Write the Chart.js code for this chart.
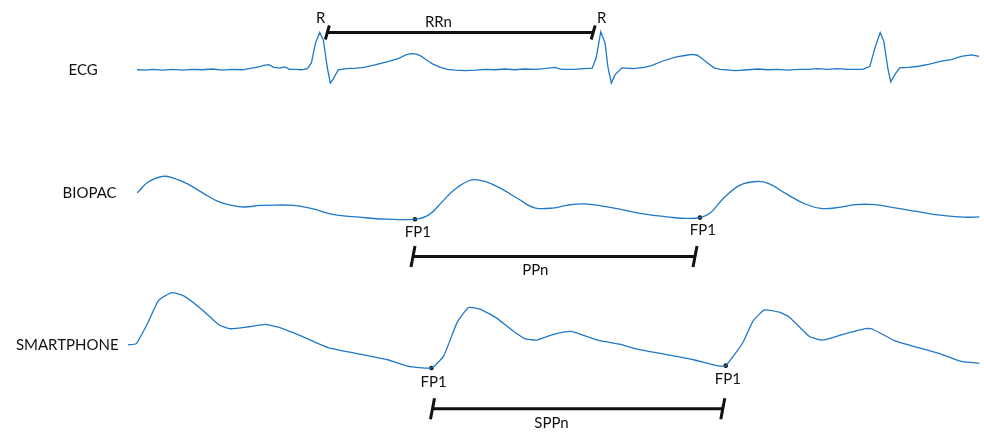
<!DOCTYPE html>
<html>
<head>
<meta charset="utf-8">
<script src="https://cdn.jsdelivr.net/npm/chart.js@4/dist/chart.umd.min.js"></script>
<style>
  body { margin: 0; background: #fff; }
  #wrap { width: 984px; height: 436px; }
</style>
</head>
<body>
<div id="wrap"><canvas id="signals" width="984" height="436"></canvas></div>
<script>
// time in ms, amplitudes in mV (ECG) and arbitrary units (pulse waves)
const ecgTime = [0, 24, 48, 78, 108, 138, 168, 198, 228, 258, 288, 318, 348, 372, 384, 399, 414, 432, 447, 462, 480, 498, 516, 528, 540, 553, 564, 576, 585, 594, 609, 633, 663, 687, 723, 759, 792, 813, 828, 846, 861, 876, 894, 918, 939, 963, 993, 1023, 1053, 1083, 1113, 1143, 1173, 1203, 1233, 1263, 1284, 1323, 1353, 1377, 1389, 1403, 1416, 1425, 1435, 1446, 1467, 1503, 1533, 1554, 1593, 1632, 1662, 1680, 1695, 1710, 1725, 1746, 1764, 1812, 1848, 1878, 1908, 1938, 1968, 1998, 2028, 2058, 2088, 2118, 2148, 2178, 2196, 2217, 2232, 2248, 2259, 2271, 2280, 2292, 2307, 2334, 2364, 2394, 2433, 2463, 2493, 2508, 2526, 2547];
const ecgMv = [0, -0.01, 0.01, -0.01, 0.01, -0.01, 0.01, 0, 0.02, -0.01, 0.01, 0, 0.04, 0.08, 0.11, 0.13, 0.06, 0.04, 0.07, 0.01, 0.01, 0, 0.03, 0.18, 0.68, 0.95, 0.75, 0.05, -0.34, -0.23, 0, 0.03, 0.04, 0.06, 0.13, 0.21, 0.29, 0.38, 0.41, 0.40, 0.34, 0.25, 0.15, 0.06, 0.01, -0.01, -0.02, -0.01, 0.01, 0, 0.02, 0, 0.02, 0.01, 0.03, 0.06, 0.01, 0.01, 0.03, 0.04, 0.30, 0.97, 0.68, 0.05, -0.34, -0.13, 0.05, 0.03, 0.06, 0.10, 0.23, 0.33, 0.37, 0.39, 0.37, 0.28, 0.18, 0.05, 0.01, -0.02, 0, 0.02, 0, 0.01, -0.01, 0.01, 0.01, 0.03, 0.01, 0.03, 0.01, 0.01, 0.01, 0.09, 0.55, 0.95, 0.73, 0.05, -0.31, -0.13, 0.05, 0.06, 0.09, 0.14, 0.22, 0.26, 0.34, 0.36, 0.38, 0.34];

const biopacTime = [1, 33, 78, 113, 153, 203, 243, 283, 323, 373, 423, 473, 533, 593, 673, 753, 841, 883, 923, 963, 1013, 1053, 1103, 1153, 1203, 1263, 1303, 1353, 1403, 1463, 1543, 1613, 1663, 1703, 1733, 1773, 1823, 1873, 1913, 1963, 2023, 2073, 2123, 2173, 2233, 2293, 2363, 2443, 2503, 2548];
const biopacAu = [0.69, 0.96, 1.11, 1.06, 0.92, 0.67, 0.48, 0.38, 0.33, 0.37, 0.38, 0.37, 0.28, 0.14, 0.07, 0.02, 0.02, 0.13, 0.46, 0.79, 1.02, 0.98, 0.79, 0.54, 0.31, 0.31, 0.38, 0.41, 0.36, 0.27, 0.14, 0.07, 0.04, 0.06, 0.17, 0.54, 0.88, 0.98, 0.92, 0.67, 0.40, 0.29, 0.32, 0.39, 0.39, 0.31, 0.21, 0.11, 0.07, 0.08];

const phoneTime = [-27, -2, 33, 66, 106, 143, 198, 248, 283, 338, 388, 428, 498, 578, 658, 758, 818, 891, 928, 968, 1003, 1038, 1088, 1138, 1173, 1208, 1258, 1313, 1393, 1463, 1503, 1583, 1683, 1753, 1781, 1833, 1863, 1898, 1943, 1973, 2033, 2073, 2133, 2203, 2223, 2293, 2363, 2423, 2493, 2548];
const phoneAu = [0.62, 0.65, 1.18, 1.76, 1.95, 1.86, 1.51, 1.13, 1.03, 1.08, 1.14, 1.07, 0.84, 0.55, 0.41, 0.24, 0.08, 0.03, 0.34, 1.18, 1.57, 1.53, 1.30, 0.97, 0.78, 0.74, 0.88, 0.96, 0.74, 0.63, 0.53, 0.40, 0.24, 0.09, 0.09, 0.68, 1.22, 1.51, 1.45, 1.33, 0.84, 0.74, 0.88, 1.03, 1.03, 0.72, 0.55, 0.41, 0.20, 0.15];

// marked events
const rPeakTime = [553, 1403];
const rPeakMv = [0.95, 0.97];
const biopacFpTime = [841, 1703];
const biopacFpAu = [0.02, 0.06];
const phoneFpTime = [891, 1781];
const phoneFpAu = [0.03, 0.09];

// interval brackets: start, end, level, label
const bracketNames = ['RRn', 'PPn', 'SPPn'];
const bracketStart = [576, 835, 894];
const bracketEnd = [1380, 1688, 1772];
const bracketLevel = [0.95, -0.93, -1.01];
const bracketAxis = ['yEcg', 'yBio', 'yPhone'];
const bracketLabelTime = [912, 1205, 1254];

const traceNames = ['ECG', 'BIOPAC', 'SMARTPHONE'];
const traceNameTime = [-207, -225, -366];
const traceNameValue = [0, 0.675, 0.6];

const BLUE = '#1f78c8';
const INK = '#111111';
const FONT = '15px Lato, "Liberation Sans", sans-serif';

function pairs(xs, ys) {
    return xs.map((x, i) => ({ x: x, y: ys[i] }));
}

// vertical band for each trace: baseline row and px per unit
function band(baselinePx, pxPerUnit) {
    return { display: false, min: (baselinePx - 436) / pxPerUnit, max: baselinePx / pxPerUnit };
}

const datasets = [
    { data: pairs(ecgTime, ecgMv), yAxisID: 'yEcg', borderColor: BLUE, borderWidth: 1.3, pointRadius: 0, tension: 0 },
    { data: pairs(biopacTime, biopacAu), yAxisID: 'yBio', borderColor: BLUE, borderWidth: 1.3, pointRadius: 0, tension: 0.4 },
    { data: pairs(phoneTime, phoneAu), yAxisID: 'yPhone', borderColor: BLUE, borderWidth: 1.3, pointRadius: 0, tension: 0.15 },
    { data: pairs(biopacFpTime, biopacFpAu), yAxisID: 'yBio', showLine: false, pointRadius: 2.3, pointBackgroundColor: INK, pointBorderWidth: 0 },
    { data: pairs(phoneFpTime, phoneFpAu), yAxisID: 'yPhone', showLine: false, pointRadius: 2.3, pointBackgroundColor: INK, pointBorderWidth: 0 }
];

for (let i = 0; i < bracketNames.length; i++) {
    datasets.push({
        data: [{ x: bracketStart[i], y: bracketLevel[i] }, { x: bracketEnd[i], y: bracketLevel[i] }],
        yAxisID: bracketAxis[i], borderColor: INK, borderWidth: 3, pointRadius: 0
    });
}

const annotate = {
    id: 'annotate',
    afterDatasetsDraw(chart) {
        const ctx = chart.ctx;
        const x = chart.scales.x;
        const text = (str, t, v, axis, dx, dy, align) => {
            ctx.textAlign = align || 'center';
            ctx.fillText(str, x.getPixelForValue(t) + dx, chart.scales[axis].getPixelForValue(v) + dy);
        };
        ctx.save();
        ctx.fillStyle = INK;
        ctx.strokeStyle = INK;
        ctx.font = FONT;
        ctx.textBaseline = 'middle';

        const axes = ['yEcg', 'yBio', 'yPhone'];
        traceNames.forEach((n, i) => text(n, traceNameTime[i], traceNameValue[i], axes[i], 0, 0, 'left'));
        rPeakTime.forEach((t, i) => text('R', t, rPeakMv[i], 'yEcg', 1, -14));
        biopacFpTime.forEach((t, i) => text('FP1', t, biopacFpAu[i], 'yBio', 3, 13));
        phoneFpTime.forEach((t, i) => text('FP1', t, phoneFpAu[i], 'yPhone', 2, 14));

        // slanted end ticks and interval names
        ctx.lineWidth = 3;
        for (let i = 0; i < bracketNames.length; i++) {
            const y = chart.scales[bracketAxis[i]].getPixelForValue(bracketLevel[i]);
            const half = i === 0 ? 7 : 10.5;
            [bracketStart[i], bracketEnd[i]].forEach(t => {
                const px = x.getPixelForValue(t);
                ctx.beginPath();
                ctx.moveTo(px - 2, y + half);
                ctx.lineTo(px + 2, y - half);
                ctx.stroke();
            });
            text(bracketNames[i], bracketLabelTime[i], bracketLevel[i], bracketAxis[i], 0, i === 0 ? -10 : 14);
        }
        ctx.restore();
    }
};

new Chart(document.getElementById('signals'), {
    type: 'line',
    data: { datasets: datasets },
    plugins: [annotate],
    options: {
        responsive: false,
        animation: false,
        events: [],
        layout: { padding: 0 },
        plugins: { legend: { display: false }, tooltip: { enabled: false } },
        scales: {
            x: { type: 'linear', display: false, min: -402, max: 2550 },
            yEcg: band(67, 40),
            yBio: band(220, 40),
            yPhone: band(372, 40)
        }
    }
});
</script>
</body>
</html>
